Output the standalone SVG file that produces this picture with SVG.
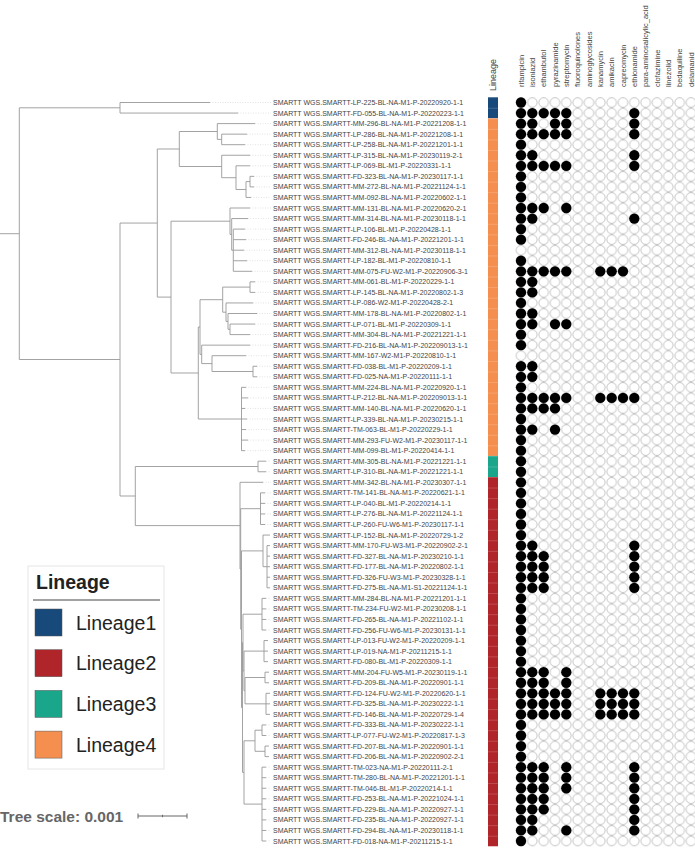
<svg xmlns="http://www.w3.org/2000/svg" xmlns:xlink="http://www.w3.org/1999/xlink" width="695" height="850" viewBox="0 0 695 850">
<style>
.t{font-family:"Liberation Sans",Arial,sans-serif;font-size:7px;fill:#444}
.h{font-family:"Liberation Sans",Arial,sans-serif;font-size:7.5px;fill:#444}
.tree{fill:none;stroke:#999;stroke-width:0.9}
.lead{fill:none;stroke:#d0d0d0;stroke-width:0.6;stroke-dasharray:1 1.5}
.lg{font-family:"Liberation Sans",Arial,sans-serif;font-size:19.5px;fill:#222}
.sw{stroke:#555;stroke-width:0.5}
</style>
<defs>
<circle id="d" r="5.15" fill="#000"/>
<pattern id="grid" x="515.333" y="97.225" width="11.333" height="10.55" patternUnits="userSpaceOnUse">
<circle cx="5.667" cy="5.275" r="4.8" fill="#fff" stroke="#aaa" stroke-width="0.7"/>
</pattern>
<pattern id="sep" x="488" y="97.225" width="10" height="10.55" patternUnits="userSpaceOnUse">
<line x1="0" y1="0.3" x2="10" y2="0.3" stroke="#fff" stroke-opacity="0.35" stroke-width="0.6"/>
</pattern>
</defs>
<rect width="695" height="850" fill="#fff"/>

<g id="connectors">
<path class="lead" d="M210,102.5H271M238,113.05H271M255,123.6H271M247,134.15H271M245,144.7H271M250,155.25H271M250,165.8H271M254,176.35H271M254,186.9H271M251,197.45H271M250,208H271M248,218.55H271M245,229.1H271M246,239.65H271M244,250.2H271M247,260.75H271M252,271.3H271M255,281.85H271M255,292.4H271M253,302.95H271M257,313.5H271M255,324.05H271M250,334.6H271M250,345.15H271M246,355.7H271M257,366.25H271M257,376.8H271M246,387.35H271M248,397.9H271M245,408.45H271M247,419H271M246,429.55H271M248,440.1H271M245,450.65H271M266,461.2H271M266,471.75H271M263,482.3H271M265,492.85H271M265,503.4H271M265,513.95H271M265,524.5H271M266,598.35H271M266,608.9H271M266,619.45H271M266,630H271M266,724.95H271M266,735.5H271M266,767.15H271M266,777.7H271M266,788.25H271M266,798.8H271M266,809.35H271M266,819.9H271M266,830.45H271M266,841H271"/>
<path class="tree" d="M0,233.7H19.3M19.3,107.8V359.5M19.3,107.8H120M120,102.5V113.05M120,102.5H210M120,113.05H238M19.3,359.5H120M120,223.05V496M120,223.05H157.3M157.3,149V297.1M157.3,149H179.3M179.3,131.5V166.5M179.3,131.5H217.3M217.3,123.6V139.4M217.3,123.6H255M217.3,139.4H221.7M221.7,134.15V144.7M221.7,134.15H247M221.7,144.7H245M179.3,166.5H221.7M221.7,155.25V177.7M221.7,155.25H250M221.7,177.7H236M236,165.8V189.5M236,165.8H250M236,189.5H246M246,181.6V197.45M246,181.6H250M250,176.35V186.9M250,176.35H254M250,186.9H254M246,197.45H251"/>
<path class="tree" d="M157.3,297.1H171M171,221.2V373M171,221.2H230M230,208V234.4M230,208H250M230,234.4H231.7M231.7,218.55V250.2M231.7,218.55H248M231.7,250.2H233.3M233.3,229.1V271.3M233.3,229.1H245M233.3,239.65H246M233.3,250.2H244M233.3,260.75H247M233.3,271.3H252M171,373H198.3M198.3,327V419M198.3,327H200M200,299.7V354.4M200,299.7H222.7M222.7,287.1V312.2M222.7,287.1H250M250,281.85V292.4M250,281.85H255M250,292.4H255M222.7,312.2H226M226,302.95V321.4M226,302.95H253M226,321.4H228M228,313.5V329.3M228,313.5H257M228,329.3H230M230,324.05V334.6M230,324.05H255M230,334.6H250M200,354.4H201.7M201.7,345.15V363.6M201.7,345.15H250M201.7,363.6H212M212,355.7V371.5M212,355.7H246M212,371.5H253M253,366.25V376.8M253,366.25H257M253,376.8H257M198.3,419H241.5M241.5,387.35V450.65M241.5,387.35H246M241.5,397.9H248M241.5,408.45H245M241.5,419H247M241.5,429.55H246M241.5,440.1H248M241.5,450.65H245"/>
<path class="tree" d="M120,496H135.3M135.3,466.5V525.6M135.3,466.5H258M258,461.2V471.75M258,461.2H266M258,471.75H266M135.3,525.6H240M240,482.3V569M240,482.3H263M240,569H240.7M240.7,508.7V629.2M240.7,508.7H260.5M260.5,492.85V524.5M260.5,492.85H265M260.5,503.4H265M260.5,513.95H265M260.5,524.5H265M240.7,629.2H241.5M241.5,550.9V707.5M241.5,550.9H263M263,535.05V566.7M263,535.05H270M263,566.7H267M267,545.6V587.8M267,545.6H270M267,556.15H270M267,566.7H270M267,577.25H270M267,587.8H270M241.5,707.5H242.5M242.5,642.6V772.4M242.5,642.6H243M243,614.2V670.9M243,614.2H262M262,598.35V630M262,598.35H266M262,608.9H266M262,619.45H266M262,630H266M243,670.9H244M244,651.1V690.7M244,651.1H264M264,640.55V661.65M264,640.55H268M264,651.1H268M264,661.65H268M244,690.7H245M245,677.5V703.85M245,677.5H265M265,672.2V682.75M265,672.2H269M265,682.75H269M245,703.85H266M266,693.3V714.4M266,693.3H270M266,703.85H270M266,714.4H270M242.5,772.4H244M244,740.8V804.1M244,740.8H255M255,730.2V751.3M255,730.2H262M262,724.95V735.5M262,724.95H266M262,735.5H266M255,751.3H265M265,746.05V756.6M265,746.05H269M265,756.6H269M244,804.1H262M262,767.15V841M262,767.15H266M262,777.7H266M262,788.25H266M262,798.8H266M262,809.35H266M262,819.9H266M262,830.45H266M262,841H266"/>
</g>

<g id="lineage-strip">
<rect x="488" y="97.225" width="10" height="21.1" fill="#17497b"/>
<rect x="488" y="118.325" width="10" height="337.6" fill="#f58f50"/>
<rect x="488" y="455.925" width="10" height="21.1" fill="#1aa68a"/>
<rect x="488" y="477.025" width="10" height="369.25" fill="#b0252a"/>
<rect x="488" y="97.225" width="10" height="749.05" fill="url(#sep)"/>
<text class="t" style="font-size:9px" transform="translate(496.2,91) rotate(-90)">Lineage</text>
</g>

<g id="headers">
<text class="h" transform="translate(523.6,87) rotate(-90)">rifampicin</text>
<text class="h" transform="translate(534.9,87) rotate(-90)">isoniazid</text>
<text class="h" transform="translate(546.3,87) rotate(-90)">ethambutol</text>
<text class="h" transform="translate(557.6,87) rotate(-90)">pyrazinamide</text>
<text class="h" transform="translate(568.9,87) rotate(-90)">streptomycin</text>
<text class="h" transform="translate(580.3,87) rotate(-90)">fluoroquinolones</text>
<text class="h" transform="translate(591.6,87) rotate(-90)">aminoglycosides</text>
<text class="h" transform="translate(602.9,87) rotate(-90)">kanamycin</text>
<text class="h" transform="translate(614.3,87) rotate(-90)">amikacin</text>
<text class="h" transform="translate(625.6,87) rotate(-90)">capreomycin</text>
<text class="h" transform="translate(636.9,87) rotate(-90)">ethionamide</text>
<text class="h" transform="translate(648.3,87) rotate(-90)">para-aminosalicylic_acid</text>
<text class="h" transform="translate(659.6,87) rotate(-90)">clofazimine</text>
<text class="h" transform="translate(670.9,87) rotate(-90)">linezolid</text>
<text class="h" transform="translate(682.3,87) rotate(-90)">bedaquiline</text>
<text class="h" transform="translate(693.6,87) rotate(-90)">delamanid</text>
</g>

<rect id="matrix-grid" x="515.333" y="97.225" width="181.333" height="749.05" fill="url(#grid)"/>

<g id="n00" transform="translate(0,102.5)"><text class="t" x="273" y="2.5">SMARTT WGS.SMARTT-LP-225-BL-NA-M1-P-20220920-1-1</text><use href="#d" x="521"/></g>
<g id="n01" transform="translate(0,113.05)"><text class="t" x="273" y="2.5">SMARTT WGS.SMARTT-FD-055-BL-NA-M1-P-20220223-1-1</text><use href="#d" x="521"/><use href="#d" x="532.3"/><use href="#d" x="543.7"/><use href="#d" x="555"/><use href="#d" x="566.3"/><use href="#d" x="634.3"/></g>
<g id="n02" transform="translate(0,123.6)"><text class="t" x="273" y="2.5">SMARTT WGS.SMARTT-MM-296-BL-NA-M1-P-20221208-1-1</text><use href="#d" x="521"/><use href="#d" x="532.3"/><use href="#d" x="555"/><use href="#d" x="566.3"/><use href="#d" x="634.3"/></g>
<g id="n03" transform="translate(0,134.15)"><text class="t" x="273" y="2.5">SMARTT WGS.SMARTT-LP-286-BL-NA-M1-P-20221208-1-1</text><use href="#d" x="521"/><use href="#d" x="532.3"/><use href="#d" x="543.7"/><use href="#d" x="555"/><use href="#d" x="566.3"/><use href="#d" x="634.3"/></g>
<g id="n04" transform="translate(0,144.7)"><text class="t" x="273" y="2.5">SMARTT WGS.SMARTT-LP-258-BL-NA-M1-P-20221201-1-1</text><use href="#d" x="521"/></g>
<g id="n05" transform="translate(0,155.25)"><text class="t" x="273" y="2.5">SMARTT WGS.SMARTT-LP-315-BL-NA-M1-P-20230119-2-1</text><use href="#d" x="521"/><use href="#d" x="532.3"/><use href="#d" x="634.3"/></g>
<g id="n06" transform="translate(0,165.8)"><text class="t" x="273" y="2.5">SMARTT WGS.SMARTT-LP-069-BL-M1-P-20220331-1-1</text><use href="#d" x="521"/><use href="#d" x="532.3"/><use href="#d" x="543.7"/><use href="#d" x="555"/><use href="#d" x="566.3"/><use href="#d" x="634.3"/></g>
<g id="n07" transform="translate(0,176.35)"><text class="t" x="273" y="2.5">SMARTT WGS.SMARTT-FD-323-BL-NA-M1-P-20230117-1-1</text><use href="#d" x="521"/></g>
<g id="n08" transform="translate(0,186.9)"><text class="t" x="273" y="2.5">SMARTT WGS.SMARTT-MM-272-BL-NA-M1-P-20221124-1-1</text><use href="#d" x="521"/></g>
<g id="n09" transform="translate(0,197.45)"><text class="t" x="273" y="2.5">SMARTT WGS.SMARTT-MM-092-BL-NA-M1-P-20220602-1-1</text><use href="#d" x="521"/></g>
<g id="n10" transform="translate(0,208)"><text class="t" x="273" y="2.5">SMARTT WGS.SMARTT-MM-131-BL-NA-M1-P-20220620-2-1</text><use href="#d" x="521"/><use href="#d" x="532.3"/><use href="#d" x="543.7"/><use href="#d" x="566.3"/></g>
<g id="n11" transform="translate(0,218.55)"><text class="t" x="273" y="2.5">SMARTT WGS.SMARTT-MM-314-BL-NA-M1-P-20230118-1-1</text><use href="#d" x="521"/><use href="#d" x="532.3"/><use href="#d" x="634.3"/></g>
<g id="n12" transform="translate(0,229.1)"><text class="t" x="273" y="2.5">SMARTT WGS.SMARTT-LP-106-BL-M1-P-20220428-1-1</text><use href="#d" x="521"/></g>
<g id="n13" transform="translate(0,239.65)"><text class="t" x="273" y="2.5">SMARTT WGS.SMARTT-FD-246-BL-NA-M1-P-20221201-1-1</text><use href="#d" x="521"/></g>
<g id="n14" transform="translate(0,250.2)"><text class="t" x="273" y="2.5">SMARTT WGS.SMARTT-MM-312-BL-NA-M1-P-20230118-1-1</text></g>
<g id="n15" transform="translate(0,260.75)"><text class="t" x="273" y="2.5">SMARTT WGS.SMARTT-LP-182-BL-M1-P-20220810-1-1</text><use href="#d" x="521"/></g>
<g id="n16" transform="translate(0,271.3)"><text class="t" x="273" y="2.5">SMARTT WGS.SMARTT-MM-075-FU-W2-M1-P-20220906-3-1</text><use href="#d" x="521"/><use href="#d" x="532.3"/><use href="#d" x="543.7"/><use href="#d" x="555"/><use href="#d" x="566.3"/><use href="#d" x="600.3"/><use href="#d" x="611.7"/><use href="#d" x="623"/></g>
<g id="n17" transform="translate(0,281.85)"><text class="t" x="273" y="2.5">SMARTT WGS.SMARTT-MM-061-BL-M1-P-20220229-1-1</text><use href="#d" x="521"/><use href="#d" x="532.3"/></g>
<g id="n18" transform="translate(0,292.4)"><text class="t" x="273" y="2.5">SMARTT WGS.SMARTT-LP-145-BL-NA-M1-P-20220802-1-3</text><use href="#d" x="521"/><use href="#d" x="532.3"/></g>
<g id="n19" transform="translate(0,302.95)"><text class="t" x="273" y="2.5">SMARTT WGS.SMARTT-LP-086-W2-M1-P-20220428-2-1</text><use href="#d" x="521"/></g>
<g id="n20" transform="translate(0,313.5)"><text class="t" x="273" y="2.5">SMARTT WGS.SMARTT-MM-178-BL-NA-M1-P-20220802-1-1</text><use href="#d" x="521"/><use href="#d" x="532.3"/></g>
<g id="n21" transform="translate(0,324.05)"><text class="t" x="273" y="2.5">SMARTT WGS.SMARTT-LP-071-BL-M1-P-20220309-1-1</text><use href="#d" x="521"/><use href="#d" x="532.3"/><use href="#d" x="555"/><use href="#d" x="566.3"/></g>
<g id="n22" transform="translate(0,334.6)"><text class="t" x="273" y="2.5">SMARTT WGS.SMARTT-MM-304-BL-NA-M1-P-20221221-1-1</text><use href="#d" x="521"/></g>
<g id="n23" transform="translate(0,345.15)"><text class="t" x="273" y="2.5">SMARTT WGS.SMARTT-FD-216-BL-NA-M1-P-202209013-1-1</text><use href="#d" x="521"/></g>
<g id="n24" transform="translate(0,355.7)"><text class="t" x="273" y="2.5">SMARTT WGS.SMARTT-MM-167-W2-M1-P-20220810-1-1</text></g>
<g id="n25" transform="translate(0,366.25)"><text class="t" x="273" y="2.5">SMARTT WGS.SMARTT-FD-038-BL-M1-P-20220209-1-1</text><use href="#d" x="521"/><use href="#d" x="532.3"/></g>
<g id="n26" transform="translate(0,376.8)"><text class="t" x="273" y="2.5">SMARTT WGS.SMARTT-FD-025-NA-M1-P-20220111-1-1</text><use href="#d" x="521"/><use href="#d" x="532.3"/></g>
<g id="n27" transform="translate(0,387.35)"><text class="t" x="273" y="2.5">SMARTT WGS.SMARTT-MM-224-BL-NA-M1-P-20220920-1-1</text><use href="#d" x="521"/></g>
<g id="n28" transform="translate(0,397.9)"><text class="t" x="273" y="2.5">SMARTT WGS.SMARTT-LP-212-BL-NA-M1-P-202209013-1-1</text><use href="#d" x="521"/><use href="#d" x="532.3"/><use href="#d" x="543.7"/><use href="#d" x="555"/><use href="#d" x="566.3"/><use href="#d" x="600.3"/><use href="#d" x="611.7"/><use href="#d" x="623"/><use href="#d" x="634.3"/></g>
<g id="n29" transform="translate(0,408.45)"><text class="t" x="273" y="2.5">SMARTT WGS.SMARTT-MM-140-BL-NA-M1-P-20220620-1-1</text><use href="#d" x="521"/><use href="#d" x="532.3"/><use href="#d" x="543.7"/><use href="#d" x="555"/></g>
<g id="n30" transform="translate(0,419)"><text class="t" x="273" y="2.5">SMARTT WGS.SMARTT-LP-339-BL-NA-M1-P-20230215-1-1</text><use href="#d" x="521"/></g>
<g id="n31" transform="translate(0,429.55)"><text class="t" x="273" y="2.5">SMARTT WGS.SMARTT-TM-063-BL-M1-P-20220229-1-1</text><use href="#d" x="521"/><use href="#d" x="532.3"/><use href="#d" x="555"/></g>
<g id="n32" transform="translate(0,440.1)"><text class="t" x="273" y="2.5">SMARTT WGS.SMARTT-MM-293-FU-W2-M1-P-20230117-1-1</text><use href="#d" x="521"/></g>
<g id="n33" transform="translate(0,450.65)"><text class="t" x="273" y="2.5">SMARTT WGS.SMARTT-MM-099-BL-M1-P-20220414-1-1</text><use href="#d" x="521"/></g>
<g id="n34" transform="translate(0,461.2)"><text class="t" x="273" y="2.5">SMARTT WGS.SMARTT-MM-305-BL-NA-M1-P-20221221-1-1</text><use href="#d" x="521"/></g>
<g id="n35" transform="translate(0,471.75)"><text class="t" x="273" y="2.5">SMARTT WGS.SMARTT-LP-310-BL-NA-M1-P-20221221-1-1</text><use href="#d" x="521"/></g>
<g id="n36" transform="translate(0,482.3)"><text class="t" x="273" y="2.5">SMARTT WGS.SMARTT-MM-342-BL-NA-M1-P-20230307-1-1</text><use href="#d" x="521"/></g>
<g id="n37" transform="translate(0,492.85)"><text class="t" x="273" y="2.5">SMARTT WGS.SMARTT-TM-141-BL-NA-M1-P-20220621-1-1</text><use href="#d" x="521"/></g>
<g id="n38" transform="translate(0,503.4)"><text class="t" x="273" y="2.5">SMARTT WGS.SMARTT-LP-040-BL-M1-P-20220214-1-1</text><use href="#d" x="521"/></g>
<g id="n39" transform="translate(0,513.95)"><text class="t" x="273" y="2.5">SMARTT WGS.SMARTT-LP-276-BL-NA-M1-P-20221124-1-1</text><use href="#d" x="521"/></g>
<g id="n40" transform="translate(0,524.5)"><text class="t" x="273" y="2.5">SMARTT WGS.SMARTT-LP-260-FU-W6-M1-P-20230117-1-1</text><use href="#d" x="521"/></g>
<g id="n41" transform="translate(0,535.05)"><text class="t" x="273" y="2.5">SMARTT WGS.SMARTT-LP-152-BL-NA-M1-P-20220729-1-2</text><use href="#d" x="521"/></g>
<g id="n42" transform="translate(0,545.6)"><text class="t" x="273" y="2.5">SMARTT WGS.SMARTT-MM-170-FU-W3-M1-P-20220902-2-1</text><use href="#d" x="521"/><use href="#d" x="532.3"/><use href="#d" x="634.3"/></g>
<g id="n43" transform="translate(0,556.15)"><text class="t" x="273" y="2.5">SMARTT WGS.SMARTT-FD-327-BL-NA-M1-P-20230210-1-1</text><use href="#d" x="521"/><use href="#d" x="532.3"/><use href="#d" x="543.7"/><use href="#d" x="634.3"/></g>
<g id="n44" transform="translate(0,566.7)"><text class="t" x="273" y="2.5">SMARTT WGS.SMARTT-FD-177-BL-NA-M1-P-20220802-1-1</text><use href="#d" x="521"/><use href="#d" x="532.3"/><use href="#d" x="543.7"/><use href="#d" x="634.3"/></g>
<g id="n45" transform="translate(0,577.25)"><text class="t" x="273" y="2.5">SMARTT WGS.SMARTT-FD-326-FU-W3-M1-P-20230328-1-1</text><use href="#d" x="521"/><use href="#d" x="532.3"/><use href="#d" x="543.7"/><use href="#d" x="634.3"/></g>
<g id="n46" transform="translate(0,587.8)"><text class="t" x="273" y="2.5">SMARTT WGS.SMARTT-FD-275-BL-NA-M1-S1-20221124-1-1</text><use href="#d" x="521"/><use href="#d" x="532.3"/><use href="#d" x="543.7"/><use href="#d" x="634.3"/></g>
<g id="n47" transform="translate(0,598.35)"><text class="t" x="273" y="2.5">SMARTT WGS.SMARTT-MM-284-BL-NA-M1-P-20221201-1-1</text><use href="#d" x="521"/></g>
<g id="n48" transform="translate(0,608.9)"><text class="t" x="273" y="2.5">SMARTT WGS.SMARTT-TM-234-FU-W2-M1-P-20230208-1-1</text><use href="#d" x="521"/></g>
<g id="n49" transform="translate(0,619.45)"><text class="t" x="273" y="2.5">SMARTT WGS.SMARTT-FD-265-BL-NA-M1-P-20221102-1-1</text><use href="#d" x="521"/></g>
<g id="n50" transform="translate(0,630)"><text class="t" x="273" y="2.5">SMARTT WGS.SMARTT-FD-256-FU-W6-M1-P-20230131-1-1</text><use href="#d" x="521"/></g>
<g id="n51" transform="translate(0,640.55)"><text class="t" x="273" y="2.5">SMARTT WGS.SMARTT-LP-013-FU-W2-M1-P-20220209-1-1</text><use href="#d" x="521"/></g>
<g id="n52" transform="translate(0,651.1)"><text class="t" x="273" y="2.5">SMARTT WGS.SMARTT-LP-019-NA-M1-P-20211215-1-1</text><use href="#d" x="521"/></g>
<g id="n53" transform="translate(0,661.65)"><text class="t" x="273" y="2.5">SMARTT WGS.SMARTT-FD-080-BL-M1-P-20220309-1-1</text><use href="#d" x="521"/></g>
<g id="n54" transform="translate(0,672.2)"><text class="t" x="273" y="2.5">SMARTT WGS.SMARTT-MM-204-FU-W5-M1-P-20230119-1-1</text><use href="#d" x="521"/><use href="#d" x="532.3"/><use href="#d" x="543.7"/><use href="#d" x="566.3"/></g>
<g id="n55" transform="translate(0,682.75)"><text class="t" x="273" y="2.5">SMARTT WGS.SMARTT-FD-209-BL-NA-M1-P-20220901-1-1</text><use href="#d" x="521"/><use href="#d" x="532.3"/><use href="#d" x="543.7"/><use href="#d" x="566.3"/></g>
<g id="n56" transform="translate(0,693.3)"><text class="t" x="273" y="2.5">SMARTT WGS.SMARTT-FD-124-FU-W2-M1-P-20220620-1-1</text><use href="#d" x="521"/><use href="#d" x="532.3"/><use href="#d" x="543.7"/><use href="#d" x="555"/><use href="#d" x="566.3"/><use href="#d" x="600.3"/><use href="#d" x="611.7"/><use href="#d" x="623"/><use href="#d" x="634.3"/></g>
<g id="n57" transform="translate(0,703.85)"><text class="t" x="273" y="2.5">SMARTT WGS.SMARTT-FD-325-BL-NA-M1-P-20230222-1-1</text><use href="#d" x="521"/><use href="#d" x="532.3"/><use href="#d" x="543.7"/><use href="#d" x="555"/><use href="#d" x="566.3"/><use href="#d" x="600.3"/><use href="#d" x="611.7"/><use href="#d" x="623"/><use href="#d" x="634.3"/></g>
<g id="n58" transform="translate(0,714.4)"><text class="t" x="273" y="2.5">SMARTT WGS.SMARTT-FD-146-BL-NA-M1-P-20220729-1-4</text><use href="#d" x="521"/><use href="#d" x="532.3"/><use href="#d" x="543.7"/><use href="#d" x="555"/><use href="#d" x="566.3"/><use href="#d" x="600.3"/><use href="#d" x="611.7"/><use href="#d" x="623"/><use href="#d" x="634.3"/></g>
<g id="n59" transform="translate(0,724.95)"><text class="t" x="273" y="2.5">SMARTT WGS.SMARTT-FD-333-BL-NA-M1-P-20230222-1-1</text><use href="#d" x="521"/></g>
<g id="n60" transform="translate(0,735.5)"><text class="t" x="273" y="2.5">SMARTT WGS.SMARTT-LP-077-FU-W2-M1-P-20220817-1-3</text><use href="#d" x="521"/></g>
<g id="n61" transform="translate(0,746.05)"><text class="t" x="273" y="2.5">SMARTT WGS.SMARTT-FD-207-BL-NA-M1-P-20220901-1-1</text><use href="#d" x="521"/></g>
<g id="n62" transform="translate(0,756.6)"><text class="t" x="273" y="2.5">SMARTT WGS.SMARTT-FD-206-BL-NA-M1-P-20220902-2-1</text><use href="#d" x="521"/></g>
<g id="n63" transform="translate(0,767.15)"><text class="t" x="273" y="2.5">SMARTT WGS.SMARTT-TM-023-NA-M1-P-20220111-2-1</text><use href="#d" x="521"/><use href="#d" x="532.3"/><use href="#d" x="543.7"/><use href="#d" x="566.3"/><use href="#d" x="634.3"/></g>
<g id="n64" transform="translate(0,777.7)"><text class="t" x="273" y="2.5">SMARTT WGS.SMARTT-TM-280-BL-NA-M1-P-20221201-1-1</text><use href="#d" x="521"/><use href="#d" x="532.3"/><use href="#d" x="543.7"/><use href="#d" x="566.3"/><use href="#d" x="634.3"/></g>
<g id="n65" transform="translate(0,788.25)"><text class="t" x="273" y="2.5">SMARTT WGS.SMARTT-TM-046-BL-M1-P-20220214-1-1</text><use href="#d" x="521"/><use href="#d" x="532.3"/><use href="#d" x="543.7"/><use href="#d" x="566.3"/><use href="#d" x="634.3"/></g>
<g id="n66" transform="translate(0,798.8)"><text class="t" x="273" y="2.5">SMARTT WGS.SMARTT-FD-253-BL-NA-M1-P-20221024-1-1</text><use href="#d" x="521"/><use href="#d" x="532.3"/><use href="#d" x="543.7"/><use href="#d" x="634.3"/></g>
<g id="n67" transform="translate(0,809.35)"><text class="t" x="273" y="2.5">SMARTT WGS.SMARTT-FD-229-BL-NA-M1-P-20220927-1-1</text><use href="#d" x="521"/><use href="#d" x="532.3"/><use href="#d" x="543.7"/><use href="#d" x="634.3"/></g>
<g id="n68" transform="translate(0,819.9)"><text class="t" x="273" y="2.5">SMARTT WGS.SMARTT-FD-235-BL-NA-M1-P-20220927-1-1</text><use href="#d" x="521"/><use href="#d" x="532.3"/><use href="#d" x="634.3"/></g>
<g id="n69" transform="translate(0,830.45)"><text class="t" x="273" y="2.5">SMARTT WGS.SMARTT-FD-294-BL-NA-M1-P-20230118-1-1</text><use href="#d" x="521"/><use href="#d" x="532.3"/><use href="#d" x="566.3"/><use href="#d" x="634.3"/></g>
<g id="n70" transform="translate(0,841)"><text class="t" x="273" y="2.5">SMARTT WGS.SMARTT-FD-018-NA-M1-P-20211215-1-1</text><use href="#d" x="521"/></g>

<g id="legend">
<rect x="28" y="566" width="136" height="203" fill="#fff" stroke="#e6e6e6" stroke-width="1"/>
<text class="lg" x="36" y="589" font-weight="bold">Lineage</text>
<line x1="33" y1="600" x2="160" y2="600" stroke="#444" stroke-width="1"/>
<rect class="sw" x="35" y="609" width="27" height="27" fill="#17497b"/>
<text class="lg" x="76" y="629.5">Lineage1</text>
<rect class="sw" x="35" y="649.7" width="27" height="27" fill="#b0252a"/>
<text class="lg" x="76" y="670.2">Lineage2</text>
<rect class="sw" x="35" y="690.4" width="27" height="27" fill="#1aa68a"/>
<text class="lg" x="76" y="710.9">Lineage3</text>
<rect class="sw" x="35" y="731.1" width="27" height="27" fill="#f58f50"/>
<text class="lg" x="76" y="751.6">Lineage4</text>
</g>

<g id="tree-scale">
<text x="0" y="821.5" font-family="Liberation Sans, Arial, sans-serif" font-size="15.5" font-weight="bold" fill="#666">Tree scale: 0.001</text>
<path d="M138,816H187M138,813.5V818.5M187,813.5V818.5M162.5,814.8V817.2" fill="none" stroke="#666" stroke-width="1"/>
</g>
</svg>
